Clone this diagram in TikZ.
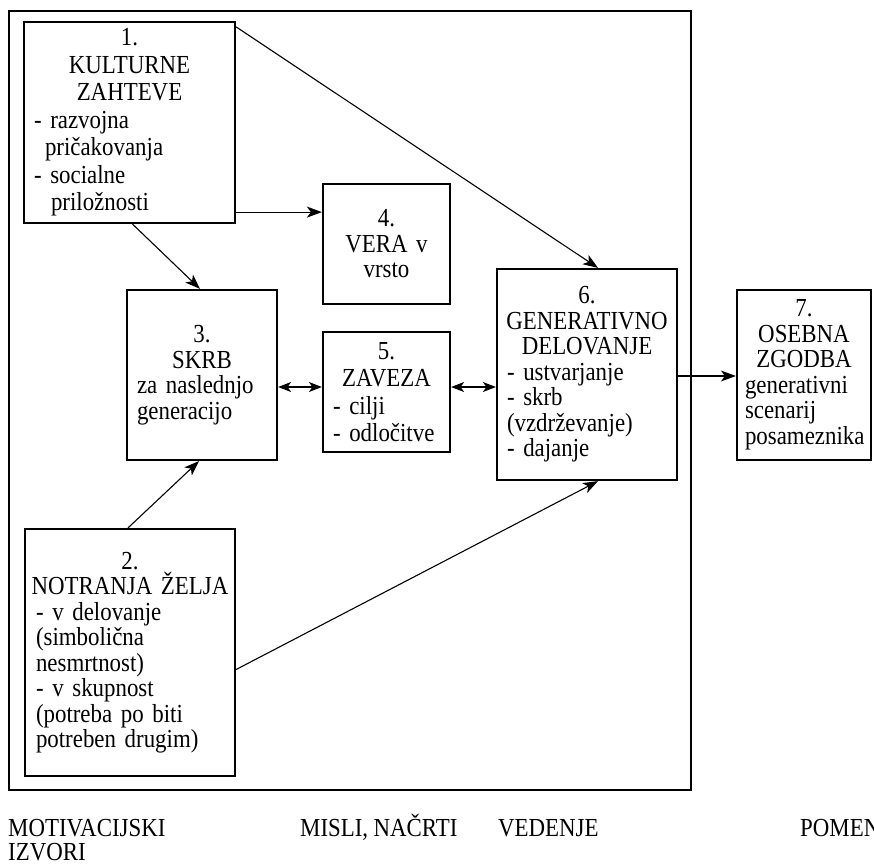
\documentclass[tikz,border=0pt]{standalone}
\usepackage{fontspec}
\setmainfont{Liberation Serif}[FakeStretch=0.88]
\usetikzlibrary{arrows.meta,calc}
\newcommand\cl[1]{\makebox[\linewidth]{#1}}
\newcommand\bodyfont[1]{\fontsize{26}{#1}\selectfont\spaceskip=5.5pt plus 1pt minus 1pt\relax}
\tikzset{
  box/.style={draw, line width=2.2pt, inner ysep=2pt, align=left, font=\bodyfont{25.5}},
  loose/.style={font=\bodyfont{27.5}},
  frame/.style={draw, line width=2.2pt, inner sep=0pt},
  arr/.style={line width=1.1pt, -{Stealth[length=15pt,width=11pt,inset=4pt]}},
  darr/.style={line width=1.1pt, {Stealth[length=13pt,width=10pt,inset=3.5pt]}-{Stealth[length=13pt,width=10pt,inset=3.5pt]}},
  lbl/.style={anchor=base west, inner sep=0pt, font=\bodyfont{26}}
}
\begin{document}
\begin{tikzpicture}[x=1pt,y=-1pt]
\useasboundingbox (0,0) rectangle (874,864);
\node[frame, minimum width=682pt, minimum height=779pt] (fr) at (350,400.5) {};

\node[box, loose, inner xsep=10pt, text width=191pt, minimum width=211pt, minimum height=201pt] (b1) at (129.5,122.5)
 {\cl{1.}\\\cl{KULTURNE}\\\cl{ZAHTEVE}\\- razvojna\\\hspace*{11pt}pričakovanja\\- socialne\\\hspace*{17pt}priložnosti};

\node[box, inner xsep=11pt, text width=188pt, minimum width=210pt, minimum height=247pt] (b2) at (130,652.5)
 {\cl{2.}\\\cl{NOTRANJA ŽELJA}\\- v delovanje\\(simbolična\\nesmrtnost)\\- v skupnost\\(potreba po biti\\potreben drugim)};

\node[box, inner xsep=10pt, text width=130pt, minimum width=150pt, minimum height=170pt] (b3) at (202,375)
 {\cl{3.}\\\cl{SKRB}\\za naslednjo\\generacijo};

\node[box, inner xsep=10pt, text width=107pt, minimum width=127pt, minimum height=120pt] (b4) at (386.5,244)
 {\cl{4.}\\\cl{VERA v}\\\cl{vrsto}};

\node[box, loose, inner xsep=10pt, text width=107pt, minimum width=127pt, minimum height=120pt] (b5) at (386.5,392)
 {\cl{5.}\\\cl{ZAVEZA}\\- cilji\\- odločitve};

\node[box, inner xsep=10pt, text width=160pt, minimum width=180pt, minimum height=211pt] (b6) at (587,374.5)
 {\cl{6.}\\\cl{GENERATIVNO}\\\cl{DELOVANJE}\\- ustvarjanje\\- skrb\\(vzdrževanje)\\- dajanje};

\node[box, inner xsep=8pt, text width=118pt, minimum width=134pt, minimum height=170pt] (b7) at (804,375)
 {\cl{7.}\\\cl{OSEBNA}\\\cl{ZGODBA}\\generativni\\scenarij\\posameznika};

\draw[arr] ([yshift=-6pt]b1.north east) -- ([xshift=11pt]b6.north);
\draw[arr] ([yshift=12pt]b1.south east) -- ([yshift=12pt]b1.south east -| b4.west);
\draw[arr] ([xshift=3pt]b1.south) -- ([xshift=-2pt]b3.north);
\draw[arr] ([xshift=-2pt]b2.north) -- ([xshift=-3pt]b3.south);
\draw[arr] ([yshift=-17pt]b2.east) -- ([xshift=11pt]b6.south);
\draw[darr] ([yshift=-12pt]b3.east) -- ([yshift=-12pt]b3.east -| b5.west);
\draw[darr] ([yshift=5pt]b5.east) -- ([yshift=5pt]b5.east -| b6.west);
\draw[arr] ([yshift=-1pt]b7.west -| b6.east) -- ([yshift=-1pt]b7.west);

\node[lbl] (l1) at (8,836) {MOTIVACIJSKI};
\node[lbl] (l1b) at (8,860) {IZVORI};
\node[lbl] (l2) at (300,836) {MISLI, NAČRTI};
\node[lbl] (l3) at (498,836) {VEDENJE};
\node[lbl] (l4) at (800,836) {POMEN};
\end{tikzpicture}
\end{document}
